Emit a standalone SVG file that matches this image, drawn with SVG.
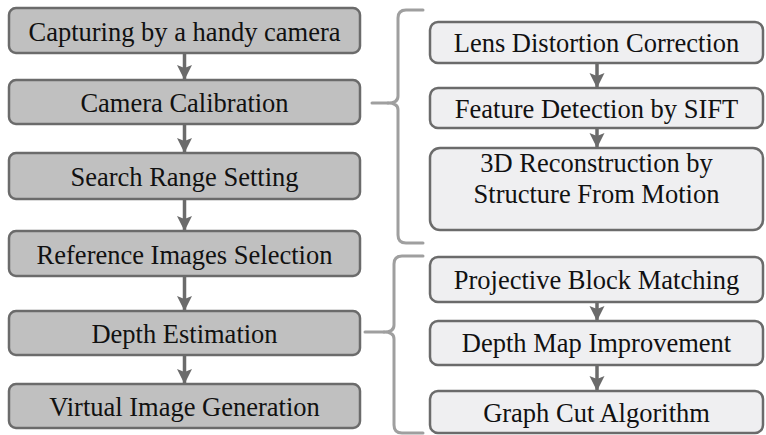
<svg xmlns="http://www.w3.org/2000/svg" width="766" height="435" viewBox="0 0 766 435">
<defs>
<style>
.main rect{fill:#c0c0c0;stroke:#6b6b6b;stroke-width:2.5}
.sub rect{fill:#efeff1;stroke:#6b6b6b;stroke-width:2.5}
text{font-size:26.5px;fill:#111;text-anchor:middle}
.arrow{stroke:#6b6b6b;stroke-width:3.5;fill:none;marker-end:url(#ah)}
.brace{stroke:#9f9f9f;stroke-width:3;fill:none;stroke-linecap:round;stroke-linejoin:round}
</style>
<marker id="ah" markerUnits="userSpaceOnUse" markerWidth="16" markerHeight="16" refX="15" refY="7.5" orient="auto">
<path d="M0,0 L15,7.5 L0,15 L3,7.5 z" fill="#6b6b6b"/>
</marker>
</defs>
<g id="connectors">
<line class="arrow" x1="184.5" y1="53" x2="184.5" y2="80"/>
<line class="arrow" x1="184.5" y1="124" x2="184.5" y2="153"/>
<line class="arrow" x1="184.5" y1="199" x2="184.5" y2="231"/>
<line class="arrow" x1="184.5" y1="276" x2="184.5" y2="311"/>
<line class="arrow" x1="184.5" y1="355" x2="184.5" y2="384"/>
<line class="arrow" x1="597" y1="63" x2="597" y2="88"/>
<line class="arrow" x1="597" y1="128" x2="597" y2="148"/>
<line class="arrow" x1="597" y1="302" x2="597" y2="321"/>
<line class="arrow" x1="597" y1="365" x2="597" y2="391"/>
<path class="brace" d="M372,103 L388,103"/>
<path class="brace" d="M423,10 L406,10 Q398,10 398,18 L398,96 Q398,103 388,103 Q398,103 398,110 L398,235 Q398,243 406,243 L423,243"/>
<path class="brace" d="M365,332 L384,332"/>
<path class="brace" d="M423,256 L402,256 Q394,256 394,264 L394,325 Q394,332 384,332 Q394,332 394,339 L394,425 Q394,433 402,433 L423,433"/>
</g>
<g font-family="Liberation Serif, DejaVu Serif, serif">
<g id="capturing" class="main"><rect x="9" y="8" width="351" height="45" rx="7"/><text x="184.5" y="40.5">Capturing by a handy camera</text></g>
<g id="calibration" class="main"><rect x="9" y="80" width="351" height="44" rx="7"/><text x="184.5" y="112">Camera Calibration</text></g>
<g id="search" class="main"><rect x="9" y="153" width="351" height="46" rx="7"/><text x="184.5" y="186">Search Range Setting</text></g>
<g id="reference" class="main"><rect x="9" y="231" width="351" height="45" rx="7"/><text x="184.5" y="263.5">Reference Images Selection</text></g>
<g id="depth" class="main"><rect x="9" y="311" width="351" height="44" rx="7"/><text x="184.5" y="343">Depth Estimation</text></g>
<g id="virtual" class="main"><rect x="9" y="384" width="351" height="44" rx="7"/><text x="184.5" y="416">Virtual Image Generation</text></g>
<g id="lens" class="sub"><rect x="430" y="22" width="333" height="41" rx="8"/><text x="596.5" y="52">Lens Distortion Correction</text></g>
<g id="feature" class="sub"><rect x="430" y="88" width="333" height="40" rx="8"/><text x="596.5" y="117.5">Feature Detection by SIFT</text></g>
<g id="sfm" class="sub"><rect x="430" y="148" width="333" height="82" rx="10"/><text x="596.5" y="172">3D Reconstruction by</text><text x="596.5" y="203">Structure From Motion</text></g>
<g id="pbm" class="sub"><rect x="430" y="257" width="333" height="45" rx="8"/><text x="596.5" y="288.5">Projective Block Matching</text></g>
<g id="dmi" class="sub"><rect x="430" y="321" width="333" height="44" rx="8"/><text x="596.5" y="352">Depth Map Improvement</text></g>
<g id="gc" class="sub"><rect x="430" y="391" width="333" height="42" rx="8"/><text x="596.5" y="421.5">Graph Cut Algorithm</text></g>
</g>
</svg>
